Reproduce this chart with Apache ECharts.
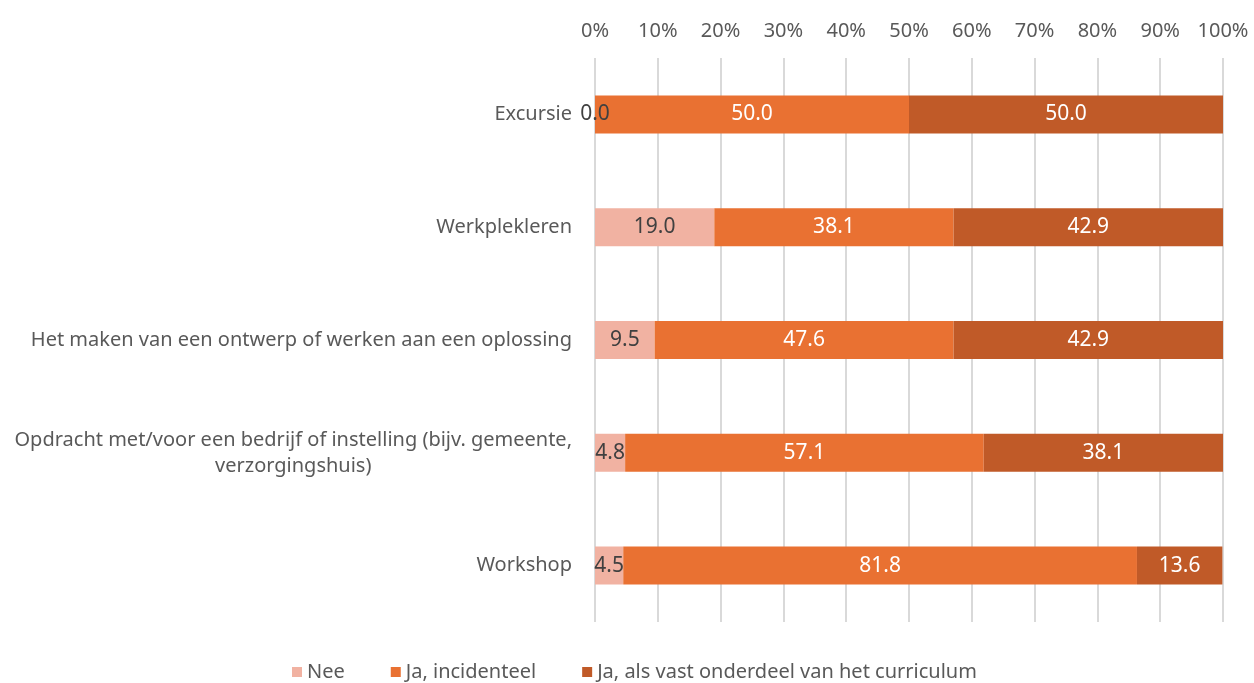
<!DOCTYPE html>
<html>
<head>
<meta charset="utf-8">
<script src="https://cdn.jsdelivr.net/npm/echarts@6/dist/echarts.min.js"></script>
<style>
  html, body { margin: 0; padding: 0; background: #fff; }
  #chart { width: 1254px; height: 683px; }
</style>
</head>
<body>
<div id="chart"></div>
<script>
// data
const categories = [
  'Excursie',
  'Werkplekleren',
  'Het maken van een ontwerp of werken aan een oplossing',
  'Opdracht met/voor een bedrijf of instelling (bijv. gemeente,\nverzorgingshuis)',
  'Workshop'
]
const nee = [0.0, 19.0, 9.5, 4.8, 4.5]
const incidenteel = [50.0, 38.1, 47.6, 57.1, 81.8]
const vast = [50.0, 42.9, 42.9, 38.1, 13.6]
const seriesNames = ['Nee', 'Ja, incidenteel', 'Ja, als vast onderdeel van het curriculum']

const textColor = '#595959'
const fontFamily = '"Noto Sans", sans-serif'
const fontSize = 20

const chart = echarts.init(document.getElementById('chart'))

function barSeries(name, data, color, labelColor) {
  return {
    name,
    type: 'bar',
    stack: 'total',
    data,
    barWidth: 38,
    itemStyle: { color },
    label: {
      show: true,
      position: 'inside',
      color: labelColor,
      fontSize: 21,
      fontFamily,
      formatter: p => p.value.toFixed(1)
    },
    emphasis: { disabled: true }
  }
}

chart.setOption({
  animation: false,
  textStyle: { fontFamily },
  grid: { left: 595, right: 31, top: 58, bottom: 61 },
  legend: {
    top: 657,
    left: 287,
    itemWidth: 10,
    itemHeight: 10,
    itemGap: 46,
    icon: 'rect',
    textStyle: { color: textColor, fontSize, fontFamily },
    data: seriesNames
  },
  xAxis: {
    type: 'value',
    position: 'top',
    min: 0,
    max: 100,
    interval: 10,
    axisLine: { show: false },
    axisTick: { show: false },
    axisLabel: {
      color: textColor,
      fontSize,
      margin: 17,
      formatter: v => v + '%'
    },
    splitLine: { lineStyle: { color: '#D9D9D9', width: 2 } }
  },
  yAxis: {
    type: 'category',
    inverse: true,
    data: categories,
    axisLine: { show: false },
    axisTick: { show: false },
    axisLabel: {
      margin: 23,
      color: textColor,
      fontSize,
      formatter: v => v.split('\n').map(s => '{c|' + s + '}').join('\n'),
      rich: {
        c: { color: textColor, fontSize, fontFamily, align: 'center', lineHeight: 26 }
      }
    }
  },
  series: [
    barSeries(seriesNames[0], nee, '#F1B2A2', '#404040'),
    barSeries(seriesNames[1], incidenteel, '#E97132', '#FFFFFF'),
    barSeries(seriesNames[2], vast, '#C05A28', '#FFFFFF')
  ]
})
</script>
</body>
</html>
